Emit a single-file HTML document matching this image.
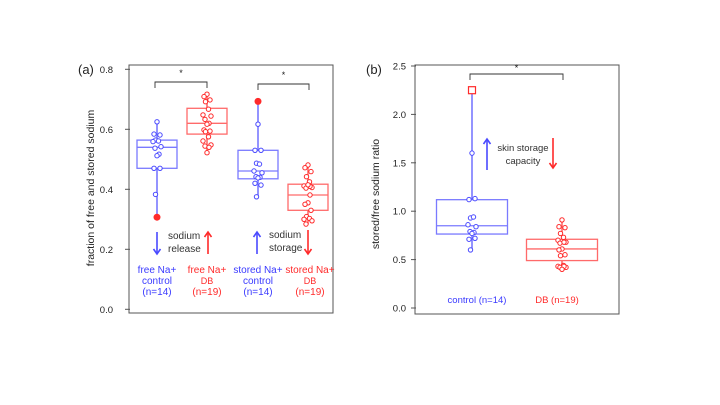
<!DOCTYPE html>
<html><head><meta charset="utf-8"><style>
body{margin:0;background:#fff}
svg{display:block;font-family:"Liberation Sans",sans-serif}
</style></head><body>
<svg id="c" width="720" height="405" viewBox="0 0 720 405">
<rect width="720" height="405" fill="#fff"/>
<g id="A"></g>
<g id="B"></g>
</svg>
<script>
// Panel (a) data
const aTicks=[0.0,0.2,0.4,0.6,0.8];
const aGroups=["free Na+ control","free Na+ DB","stored Na+ control","stored Na+ DB"];
const aQ1=[0.47,0.584,0.435,0.33];
const aMed=[0.54,0.62,0.461,0.381];
const aQ3=[0.564,0.67,0.53,0.417];
const aWLo=[0.307,0.522,0.375,0.284];
const aWHi=[0.625,0.717,0.693,0.481];
const aPts0=[0.625,0.584,0.581,0.564,0.561,0.559,0.542,0.537,0.517,0.512,0.47,0.47,0.383];
const aPts1=[0.717,0.709,0.698,0.692,0.667,0.648,0.644,0.633,0.62,0.617,0.598,0.594,0.592,0.575,0.561,0.548,0.544,0.54,0.522];
const aPts2=[0.617,0.53,0.53,0.487,0.484,0.461,0.455,0.442,0.44,0.438,0.42,0.414,0.375];
const aPts3=[0.481,0.472,0.459,0.442,0.425,0.411,0.406,0.404,0.381,0.355,0.35,0.33,0.309,0.303,0.3,0.295,0.284,0.41,0.415];
const aOut=[[0,0.307],[2,0.693]];
// Panel (b) data
const bTicks=[0.0,0.5,1.0,1.5,2.0,2.5];
const bGroups=["control (n=14)","DB (n=19)"];
const bQ1=[0.764,0.49];
const bMed=[0.85,0.61];
const bQ3=[1.119,0.71];
const bWLo=[0.60,0.40];
const bWHi=[2.25,0.91];
const bPts0=[1.6,1.12,1.13,0.93,0.94,0.86,0.84,0.79,0.78,0.77,0.71,0.72,0.60];
const bPts1=[0.91,0.84,0.83,0.77,0.73,0.70,0.68,0.67,0.68,0.61,0.60,0.55,0.54,0.44,0.43,0.42,0.42,0.43,0.40];
const bOut=[[0,2.25]];

const NS="http://www.w3.org/2000/svg";
function mk(p,t,a,txt){const e=document.createElementNS(NS,t);for(const k in a)e.setAttribute(k,a[k]);if(txt!=null)e.textContent=txt;p.appendChild(e);return e;}
const BL="#4a4aff",BLL="#7a7aff",RD="#ff2a2a",RDL="#ff6a6a";
const jit=[0,-3,3,-1.5,1.5,-4,4,-2,2];

function panel(g,o){
  const y=v=>o.y0-o.ys*v;
  let e=mk(g,"rect",{x:o.fx0,y:o.fy0,width:o.fx1-o.fx0,height:o.fy1-o.fy0,fill:"none",stroke:"#555","stroke-width":1});
  
  
  o.ticks.forEach(t=>{
    e=mk(g,"line",{x1:o.fx0-4,x2:o.fx0+1,y1:y(t),y2:y(t),stroke:"#555"});
    
    
    e=mk(g,"text",{x:o.lx,y:y(t)+3.5,"text-anchor":"end","font-size":9.5,fill:"#222"},t.toFixed(1));
    
    
  });
  o.groups.forEach((name,i)=>{
    const cx=o.cx[i],col=i%2==0?BL:RD,lc=i%2==0?BLL:RDL,hw=o.hw;
    e=mk(g,"line",{x1:cx,x2:cx,y1:y(o.wlo[i]),y2:y(o.whi[i]),stroke:lc,"stroke-width":1.6});
    
    
    e=mk(g,"rect",{x:cx-hw,y:y(o.q3[i]),width:2*hw,height:y(o.q1[i])-y(o.q3[i]),fill:"#fff",stroke:lc,"stroke-width":1.3});
    
    
    e=mk(g,"line",{x1:cx-hw,x2:cx+hw,y1:y(o.med[i]),y2:y(o.med[i]),stroke:lc,"stroke-width":1.3});
    
    
    o.pts[i].forEach((v,k)=>{
      e=mk(g,"circle",{cx:cx+jit[k%jit.length],cy:y(v),r:2.2,fill:"#fff",stroke:col,"stroke-width":1});
      
      
    });
  });
  o.out.forEach(([i,v])=>{
    if(o.sq){e=mk(g,"rect",{x:o.cx[i]-3.5,y:y(v)-3.5,width:7,height:7,fill:"#fff",stroke:RD,"stroke-width":1.2});}
    else{e=mk(g,"circle",{cx:o.cx[i],cy:y(v),r:3.5,fill:RD});}
    
    
  });
  return y;
}
function arrow(g,x,y1,y2,col){ // from y1 to y2 with head at y2
  let e=mk(g,"line",{x1:x,x2:x,y1:y1,y2:y2,stroke:col,"stroke-width":1.6});
  
  
  const d=y2>y1?-1:1;
  e=mk(g,"polyline",{points:`${x-3.5},${y2+d*5} ${x},${y2} ${x+3.5},${y2+d*5}`,fill:"none",stroke:col,"stroke-width":1.6});
  
  
}
function bracket(g,x1,x2,yb,sy){
  let e=mk(g,"polyline",{points:`${x1},${yb+6} ${x1},${yb} ${x2},${yb} ${x2},${yb+6}`,fill:"none",stroke:"#333","stroke-width":0.9});
  
  
  e=mk(g,"text",{x:(x1+x2)/2,y:sy,"text-anchor":"middle","font-size":9,fill:"#222"},"*");
  
  
}
function txt(g,x,y,s,col,fs,name,anchor){
  const e=mk(g,"text",{x:x,y:y,"text-anchor":anchor||"middle","font-size":fs,fill:col},s);
  
  
  return e;
}

// Panel A
const A=document.getElementById("A");
panel(A,{y0:309.3,ys:300,fx0:129,fx1:333,fy0:65,fy1:313,lx:113,ticks:aTicks,groups:aGroups,
  cx:[157,207,258,308],hw:20,q1:aQ1,med:aMed,q3:aQ3,wlo:aWLo,whi:aWHi,pts:[aPts0,aPts1,aPts2,aPts3],out:aOut,sq:false});
bracket(A,155,207,82,76);
bracket(A,258,309,84,78);
arrow(A,157,232,254,BL);arrow(A,208,254,232,RD);arrow(A,257,254,232,BL);arrow(A,308,230,254,RD);
txt(A,168,239,"sodium","#333",10,"annotation-text","start");
txt(A,168,252,"release","#333",10,"annotation-text","start");
txt(A,269,238,"sodium","#333",10,"annotation-text","start");
txt(A,269,251,"storage","#333",10,"annotation-text","start");
const aLab=[["free Na+","control","(n=14)"],["free Na+","DB","(n=19)"],["stored Na+","control","(n=14)"],["stored Na+","DB","(n=19)"]];
[157,207,258,310].forEach((x,i)=>{const c=i%2==0?"#3a3aff":"#ff2a2a";
  txt(A,x,273,aLab[i][0],c,10,"group-label");
  txt(A,x,284,aLab[i][1],c,i%2==0?10:9,"group-label");
  txt(A,x,295,aLab[i][2],c,10,"group-label");});
let t=txt(A,0,0,"fraction of free and stored sodium","#222",10.5,"y-axis-title");
t.setAttribute("transform","translate(94,188) rotate(-90)");
txt(A,78,74,"(a)","#222",13,"panel-label","start");

// Panel B
const B=document.getElementById("B");
panel(B,{y0:308,ys:96.8,fx0:415,fx1:619,fy0:65,fy1:314,lx:406,ticks:bTicks,groups:bGroups,
  cx:[472,562],hw:35.5,q1:bQ1,med:bMed,q3:bQ3,wlo:bWLo,whi:bWHi,pts:[bPts0,bPts1],out:bOut,sq:true});
bracket(B,470,563,74,71);
arrow(B,487,170,139,BL);arrow(B,553,138,168,RD);
txt(B,523,151,"skin storage","#333",9.5,"annotation-text");
txt(B,523,164,"capacity","#333",9.5,"annotation-text");
txt(B,477,303,"control (n=14)","#3a3aff",9.5,"group-label");
txt(B,557,303,"DB (n=19)","#ff2a2a",9.5,"group-label");
t=txt(B,0,0,"stored/free  sodium  ratio","#222",10.5,"y-axis-title");
t.setAttribute("transform","translate(379,194) rotate(-90)");
txt(B,366,74,"(b)","#222",13,"panel-label","start");
</script>
</body></html>
